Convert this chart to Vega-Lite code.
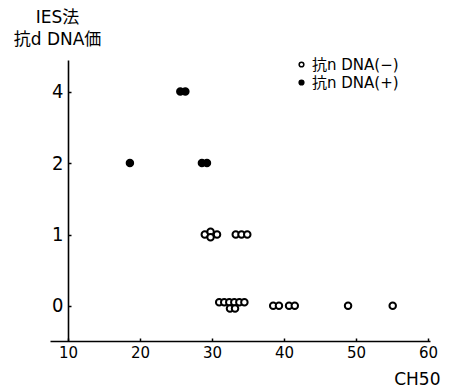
{
  "$schema": "https://vega.github.io/schema/vega-lite/v6.json",
  "width": 380,
  "height": 281,
  "autosize": "none",
  "padding": {"left": 50, "top": 60, "right": 24, "bottom": 51},
  "background": "white",
  "config": {"view": {"stroke": null}, "font": "DejaVu Sans, Noto Sans CJK JP"},
  "data": {"values": [
    {"ch50": 18.6, "dna": 2, "g": "抗n DNA(+)"},
    {"ch50": 25.6, "dna": 4, "g": "抗n DNA(+)"},
    {"ch50": 26.3, "dna": 4, "g": "抗n DNA(+)"},
    {"ch50": 28.6, "dna": 2, "g": "抗n DNA(+)"},
    {"ch50": 29.3, "dna": 2, "g": "抗n DNA(+)"},
    {"ch50": 29.0, "dna": 1, "g": "抗n DNA(−)"},
    {"ch50": 29.8, "dna": 1.04, "g": "抗n DNA(−)"},
    {"ch50": 29.8, "dna": 0.96, "g": "抗n DNA(−)"},
    {"ch50": 30.7, "dna": 1, "g": "抗n DNA(−)"},
    {"ch50": 33.3, "dna": 1, "g": "抗n DNA(−)"},
    {"ch50": 34.1, "dna": 1, "g": "抗n DNA(−)"},
    {"ch50": 34.9, "dna": 1, "g": "抗n DNA(−)"},
    {"ch50": 31.0, "dna": 0.05, "g": "抗n DNA(−)"},
    {"ch50": 31.7, "dna": 0.05, "g": "抗n DNA(−)"},
    {"ch50": 32.4, "dna": 0.05, "g": "抗n DNA(−)"},
    {"ch50": 33.1, "dna": 0.05, "g": "抗n DNA(−)"},
    {"ch50": 33.8, "dna": 0.05, "g": "抗n DNA(−)"},
    {"ch50": 34.5, "dna": 0.05, "g": "抗n DNA(−)"},
    {"ch50": 32.5, "dna": -0.04, "g": "抗n DNA(−)"},
    {"ch50": 33.2, "dna": -0.04, "g": "抗n DNA(−)"},
    {"ch50": 38.5, "dna": 0, "g": "抗n DNA(−)"},
    {"ch50": 39.3, "dna": 0, "g": "抗n DNA(−)"},
    {"ch50": 40.7, "dna": 0, "g": "抗n DNA(−)"},
    {"ch50": 41.5, "dna": 0, "g": "抗n DNA(−)"},
    {"ch50": 48.9, "dna": 0, "g": "抗n DNA(−)"},
    {"ch50": 55.1, "dna": 0, "g": "抗n DNA(−)"}
  ]},
  "mark": {"type": "point", "size": 42, "strokeWidth": 2, "stroke": "black", "opacity": 1, "filled": false},
  "encoding": {
    "x": {
      "field": "ch50", "type": "quantitative",
      "scale": {"domain": [7.5, 60.28], "nice": false, "zero": false},
      "axis": {
        "values": [10, 20, 30, 40, 50, 60],
        "grid": false,
        "domainColor": "black", "domainWidth": 1.6,
        "tickColor": "black", "tickSize": -3, "tickWidth": 1.5,
        "labelFontSize": 15, "labelColor": "black", "labelPadding": 7,
        "labelFont": "DejaVu Sans",
        "title": "CH50", "titleFontSize": 17, "titleFontWeight": "normal", "titleColor": "black",
        "titleAnchor": "end", "titleAlign": "right", "titleBaseline": "top",
        "titleX": 390, "titleY": 30, "titleFont": "DejaVu Sans"
      }
    },
    "y": {
      "field": "dna", "type": "quantitative",
      "scale": {"domain": [-0.49, 0, 1, 2, 4, 4.44], "range": [281, 245.7, 174.5, 103, 31.5, 0], "nice": false, "zero": false},
      "axis": {
        "values": [0, 1, 2, 4],
        "offset": -18,
        "grid": false,
        "domainColor": "black", "domainWidth": 1.6,
        "tickColor": "black", "tickSize": -3, "tickWidth": 1.5,
        "labelFontSize": 20, "labelColor": "black", "labelPadding": 8,
        "labelFont": "DejaVu Sans Condensed",
        "title": ["IES法", "抗d DNA価"],
        "titleFontSize": 17, "titleFontWeight": "normal", "titleColor": "black",
        "titleAngle": 0, "titleAlign": "center", "titleBaseline": "top",
        "titleX": -11, "titleY": -51, "titleLineHeight": 22
      }
    },
    "fill": {
      "field": "g", "type": "nominal",
      "scale": {"domain": ["抗n DNA(−)", "抗n DNA(+)"], "range": ["white", "black"]},
      "legend": {
        "title": null, "orient": "none", "legendX": 244, "legendY": -3,
        "labelFontSize": 15, "labelColor": "black", "labelOffset": 3,
        "symbolType": "circle", "symbolSize": 22, "symbolStrokeColor": "black", "symbolStrokeWidth": 1.5,
        "rowPadding": 2, "labelLimit": 300
      }
    }
  }
}
